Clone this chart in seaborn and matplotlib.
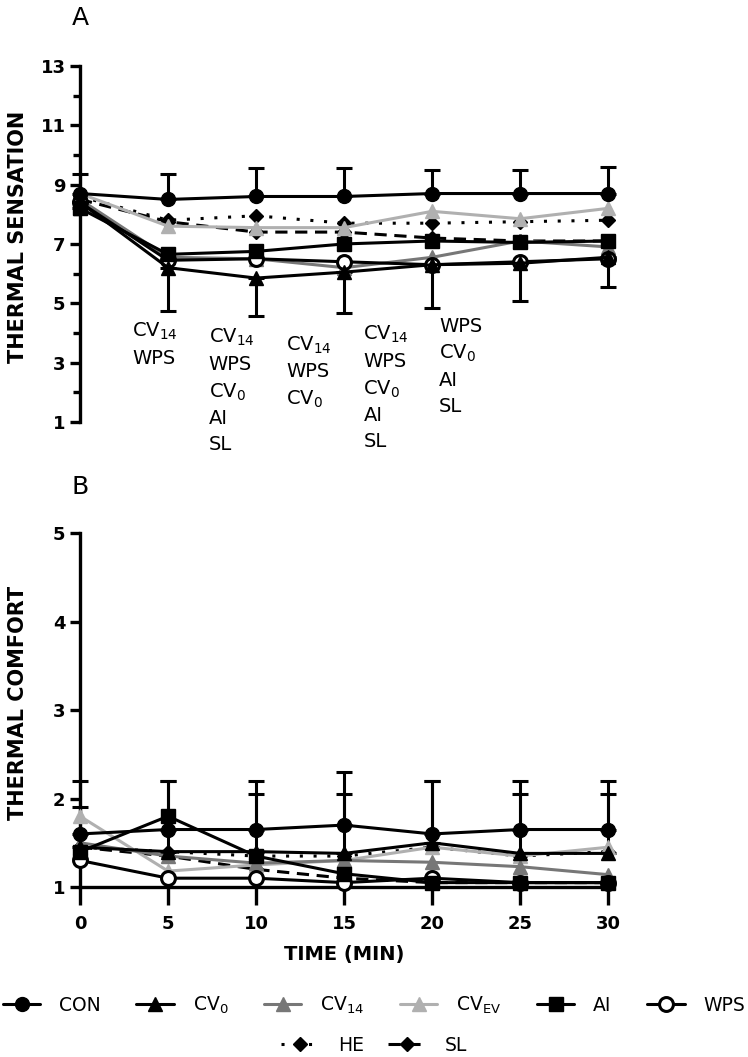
import matplotlib
matplotlib.use('Agg')
import matplotlib.pyplot as plt
import seaborn as sns
import pandas as pd
import numpy as np

# time points (min)
time = [0, 5, 10, 15, 20, 25, 30]

groups = ['CON', 'CV0', 'CV14', 'CVEV', 'AI', 'WPS', 'HE', 'SL']
labels = ['CON', 'CV$_0$', 'CV$_{14}$', 'CV$_{EV}$', 'AI', 'WPS', 'HE', 'SL']

# A - thermal sensation
sens_con = [8.7, 8.5, 8.6, 8.6, 8.7, 8.7, 8.7]
sens_cv0 = [8.4, 6.2, 5.85, 6.05, 6.3, 6.35, 6.55]
sens_cv14 = [8.5, 6.55, 6.5, 6.2, 6.55, 7.1, 6.9]
sens_cvev = [8.7, 7.6, 7.55, 7.55, 8.1, 7.85, 8.2]
sens_ai = [8.2, 6.65, 6.75, 7.0, 7.1, 7.05, 7.1]
sens_wps = [8.4, 6.45, 6.5, 6.4, 6.3, 6.4, 6.5]
sens_he = [8.6, 7.8, 7.95, 7.7, 7.7, 7.75, 7.8]
sens_sl = [8.5, 7.75, 7.4, 7.4, 7.2, 7.1, 7.1]
sens_con_sd = [0.65, 0.85, 0.95, 0.95, 0.8, 0.8, 0.9]
sens_cv0_sd = [0.2, 1.46, 1.28, 1.38, 1.46, 1.27, 1.0]

# B - thermal comfort
comf_con = [1.6, 1.65, 1.65, 1.7, 1.6, 1.65, 1.65]
comf_cv0 = [1.45, 1.4, 1.4, 1.38, 1.5, 1.38, 1.38]
comf_cv14 = [1.5, 1.35, 1.27, 1.3, 1.28, 1.23, 1.14]
comf_cvev = [1.8, 1.18, 1.25, 1.3, 1.45, 1.35, 1.45]
comf_ai = [1.4, 1.8, 1.35, 1.15, 1.05, 1.05, 1.05]
comf_wps = [1.3, 1.1, 1.1, 1.05, 1.1, 1.05, 1.05]
comf_he = [1.45, 1.4, 1.35, 1.35, 1.45, 1.35, 1.4]
comf_sl = [1.45, 1.35, 1.2, 1.1, 1.05, 1.05, 1.05]
comf_con_sd = [0.6, 0.55, 0.55, 0.6, 0.6, 0.55, 0.55]
comf_cv0_sd = [0.45, 0.8, 0.65, 0.67, 0.7, 0.67, 0.67]

# significance notes under panel A
notes = ['CV$_{14}$\nWPS',
         'CV$_{14}$\nWPS\nCV$_0$\nAI\nSL',
         'CV$_{14}$\nWPS\nCV$_0$',
         'CV$_{14}$\nWPS\nCV$_0$\nAI\nSL',
         'WPS\nCV$_0$\nAI\nSL']

sens = pd.DataFrame({'time': time * 8, 'group': np.repeat(groups, 7),
                     'value': sens_con + sens_cv0 + sens_cv14 + sens_cvev + sens_ai + sens_wps + sens_he + sens_sl})
comf = pd.DataFrame({'time': time * 8, 'group': np.repeat(groups, 7),
                     'value': comf_con + comf_cv0 + comf_cv14 + comf_cvev + comf_ai + comf_wps + comf_he + comf_sl})

styles = {
    'CON': dict(color='black', marker='o', ls='-', mfc='black'),
    'CV0': dict(color='black', marker='^', ls='-', mfc='black'),
    'CV14': dict(color='#777777', marker='^', ls='-', mfc='#777777'),
    'CVEV': dict(color='#b0b0b0', marker='^', ls='-', mfc='#b0b0b0'),
    'AI': dict(color='black', marker='s', ls='-', mfc='black'),
    'WPS': dict(color='black', marker='o', ls='-', mfc='white'),
    'HE': dict(color='black', marker='D', ls=(0, (1, 3.5)), mfc='black'),
    'SL': dict(color='black', marker='D', ls=(0, (4, 2.5)), mfc='black'),
}
order = ['SL', 'HE', 'CVEV', 'CV14', 'WPS', 'AI', 'CV0', 'CON']

sns.set_style('ticks')
plt.rcParams['font.family'] = ['DejaVu Sans']
plt.rcParams['mathtext.default'] = 'regular'
plt.rcParams['text.color'] = 'black'
plt.rcParams['axes.labelcolor'] = 'black'
plt.rcParams['axes.edgecolor'] = 'black'
plt.rcParams['xtick.color'] = 'black'
plt.rcParams['ytick.color'] = 'black'

fig = plt.figure(figsize=(7.48, 10.57), dpi=100)
axA = fig.add_axes([0.107, 0.6008, 0.706, 0.3368])
axB = fig.add_axes([0.107, 0.1608, 0.706, 0.3349])


def draw(ax, df, con_sd, cv0_sd, con_vals, cv0_vals, down):
    for g in order:
        st = styles[g]
        sub = df[df.group == g]
        ms = 7.5 if st['marker'] == 'D' else 10
        if st['marker'] == 's':
            ms = 9.5
        sns.lineplot(data=sub, x='time', y='value', ax=ax, color=st['color'],
                     linestyle=st['ls'], marker=st['marker'], markersize=ms,
                     markerfacecolor=st['mfc'], markeredgecolor=st['color'] if g != 'WPS' else 'black',
                     markeredgewidth=2.2 if g == 'WPS' else 1, lw=2.2, clip_on=False,
                     label=labels[groups.index(g)], legend=False, zorder=3)
    zeros = [0] * len(time)
    ax.errorbar(time, con_vals, yerr=[zeros, con_sd], fmt='none', ecolor='black',
                elinewidth=2.2, capsize=6, capthick=2.2, zorder=2, clip_on=False)
    if down:
        ax.errorbar(time, cv0_vals, yerr=[cv0_sd, zeros], fmt='none', ecolor='black',
                    elinewidth=2.2, capsize=6, capthick=2.2, zorder=2, clip_on=False)
    else:
        ax.errorbar(time, cv0_vals, yerr=[zeros, cv0_sd], fmt='none', ecolor='black',
                    elinewidth=2.2, capsize=6, capthick=2.2, zorder=2, clip_on=False)


draw(axA, sens, sens_con_sd, sens_cv0_sd, sens_con, sens_cv0, True)
draw(axB, comf, comf_con_sd, comf_cv0_sd, comf_con, comf_cv0, False)

# panel A axes
axA.set_xlim(0, 30)
axA.set_ylim(1, 13)
axA.set_yticks([1, 3, 5, 7, 9, 11, 13])
axA.set_yticks([2, 4, 6, 8, 10, 12], minor=True)
axA.set_xticks([])
for s in ['top', 'right', 'bottom']:
    axA.spines[s].set_visible(False)
axA.spines['left'].set_linewidth(2.4)
axA.tick_params(axis='y', which='major', length=7, width=2.4, labelsize=13)
axA.tick_params(axis='y', which='minor', length=5, width=2.4)
for t in axA.get_yticklabels():
    t.set_fontweight('bold')
axA.set_xlabel('')
axA.set_ylabel('THERMAL SENSATION', fontsize=15, fontweight='bold')
axA.yaxis.set_label_coords(-0.098, 0.52)
axA.text(0.0, 1.135, 'A', transform=axA.transAxes, fontsize=18, ha='center', va='center')

note_x = [2.95, 7.3, 11.7, 16.1, 20.4]
note_y = [4.4, 4.2, 3.95, 4.3, 4.55]
for nx, ny, txt in zip(note_x, note_y, notes):
    axA.text(nx, ny, txt, fontsize=14, ha='left', va='top', linespacing=1.45)

# panel B axes
axB.set_xlim(0, 30)
axB.set_ylim(1, 5)
axB.set_yticks([1, 2, 3, 4, 5])
axB.set_xticks(time)
for s in ['top', 'right']:
    axB.spines[s].set_visible(False)
axB.spines['left'].set_linewidth(2.4)
axB.spines['bottom'].set_linewidth(2.4)
axB.tick_params(axis='y', length=7, width=2.4, labelsize=13)
axB.tick_params(axis='x', length=13, width=2.4, labelsize=13, pad=7)
for t in axB.get_yticklabels() + axB.get_xticklabels():
    t.set_fontweight('bold')
axB.set_xlabel('TIME (MIN)', fontsize=14, fontweight='bold')
axB.xaxis.set_label_coords(0.5, -0.165)
axB.set_ylabel('THERMAL COMFORT', fontsize=15, fontweight='bold')
axB.yaxis.set_label_coords(-0.098, 0.52)
axB.text(0.0, 1.13, 'B', transform=axB.transAxes, fontsize=18, ha='center', va='center')

# legend
handles = {}
for line in axB.get_lines():
    lab = line.get_label()
    if lab in labels:
        handles[lab] = line
row1 = labels[:6]
row2 = labels[6:]
fig.legend([handles[l] for l in row1], row1, loc='center', bbox_to_anchor=(0.5, 0.049),
           ncol=6, frameon=False, fontsize=13.5, handlelength=2.0, handletextpad=1.0,
           columnspacing=1.9)
fig.legend([handles[l] for l in row2], row2, loc='center', bbox_to_anchor=(0.5, 0.011),
           ncol=2, frameon=False, fontsize=13.5, handlelength=2.0, handletextpad=1.0,
           columnspacing=1.3)

fig.savefig('out.png', dpi=100)
